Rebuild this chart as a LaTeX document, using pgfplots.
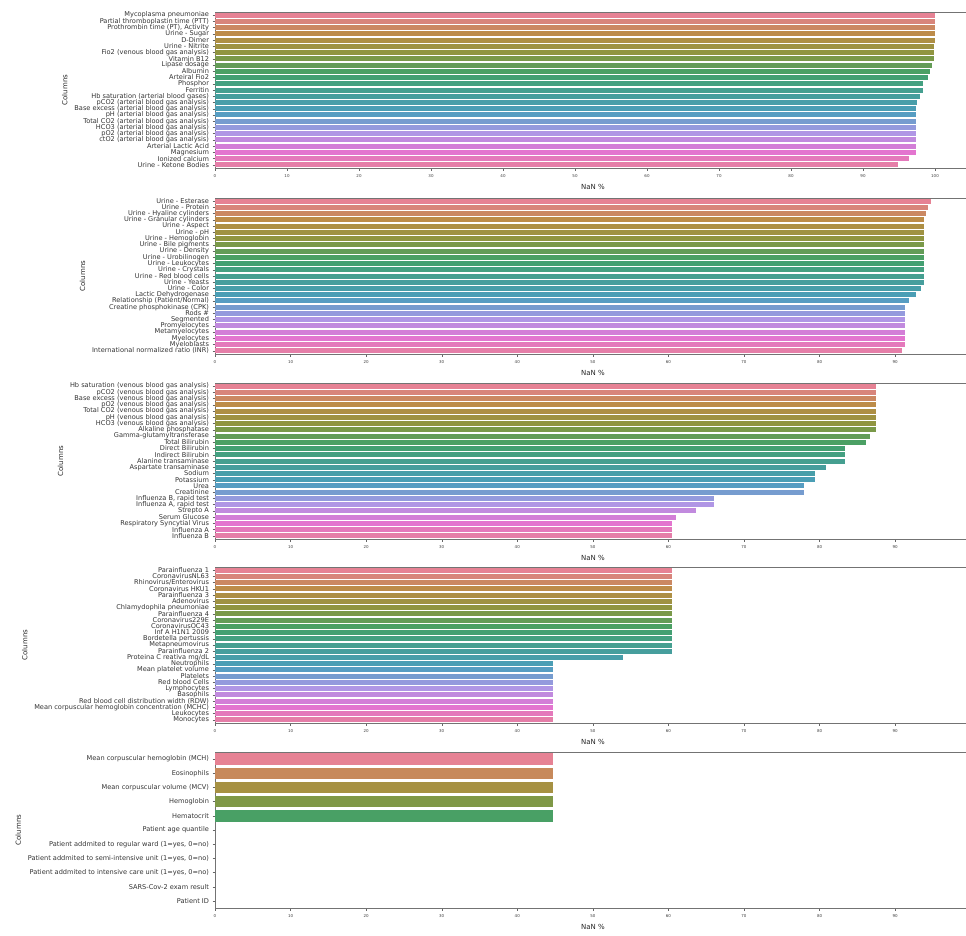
\documentclass[border=0pt]{standalone}
\usepackage{pgfplots}
\pgfplotsset{compat=1.18}
\usepackage{pgfplotstable}
\usepackage{fontspec}
\setmainfont{DejaVu Sans}

% 25-colour husl-like palette (desaturated)
\definecolor{c0}{RGB}{230,130,148}
\definecolor{c1}{RGB}{216,133,123}
\definecolor{c2}{RGB}{203,136,98}
\definecolor{c3}{RGB}{189,140,73}
\definecolor{c4}{RGB}{174,143,68}
\definecolor{c5}{RGB}{159,146,66}
\definecolor{c6}{RGB}{144,149,64}
\definecolor{c7}{RGB}{122,153,73}
\definecolor{c8}{RGB}{99,156,87}
\definecolor{c9}{RGB}{75,160,100}
\definecolor{c10}{RGB}{67,160,114}
\definecolor{c11}{RGB}{68,160,129}
\definecolor{c12}{RGB}{69,159,144}
\definecolor{c13}{RGB}{70,158,157}
\definecolor{c14}{RGB}{72,158,169}
\definecolor{c15}{RGB}{75,158,181}
\definecolor{c16}{RGB}{87,157,194}
\definecolor{c17}{RGB}{118,156,207}
\definecolor{c18}{RGB}{148,154,221}
\definecolor{c19}{RGB}{176,150,229}
\definecolor{c20}{RGB}{193,138,222}
\definecolor{c21}{RGB}{211,126,215}
\definecolor{c22}{RGB}{227,117,207}
\definecolor{c23}{RGB}{228,121,187}
\definecolor{c24}{RGB}{229,126,168}
% 11-colour palette (first five used)
\definecolor{d0}{RGB}{230,130,148}
\definecolor{d1}{RGB}{199,137,91}
\definecolor{d2}{RGB}{166,145,67}
\definecolor{d3}{RGB}{127,152,71}
\definecolor{d4}{RGB}{73,160,101}

\pgfplotstableread{
i v
0 100.0
1 100.0
2 100.0
3 100.0
4 100.0
5 99.9
6 99.9
7 99.8
8 99.6
9 99.3
10 99.0
11 98.3
12 98.3
13 97.9
14 97.5
15 97.4
16 97.4
17 97.4
18 97.4
19 97.4
20 97.4
21 97.4
22 97.3
23 96.4
24 94.9
}\tabA

\pgfplotstableread{
i v
0 94.7
1 94.3
2 94.1
3 93.8
4 93.8
5 93.8
6 93.8
7 93.8
8 93.8
9 93.8
10 93.8
11 93.8
12 93.8
13 93.8
14 93.4
15 92.7
16 91.9
17 91.3
18 91.3
19 91.3
20 91.3
21 91.3
22 91.3
23 91.3
24 90.9
}\tabB

\pgfplotstableread{
i v
0 87.5
1 87.5
2 87.5
3 87.5
4 87.5
5 87.5
6 87.5
7 87.5
8 86.7
9 86.1
10 83.4
11 83.4
12 83.4
13 80.8
14 79.4
15 79.4
16 77.9
17 77.9
18 66.0
19 66.0
20 63.6
21 61.0
22 60.5
23 60.5
24 60.5
}\tabC

\pgfplotstableread{
i v
0 60.5
1 60.5
2 60.5
3 60.5
4 60.5
5 60.5
6 60.5
7 60.5
8 60.5
9 60.5
10 60.5
11 60.5
12 60.5
13 60.5
14 54.0
15 44.7
16 44.7
17 44.7
18 44.7
19 44.7
20 44.7
21 44.7
22 44.7
23 44.7
24 44.7
}\tabD

\pgfplotstableread{
i v
0 44.7
1 44.7
2 44.7
3 44.7
4 44.7
5 0
6 0
7 0
8 0
9 0
10 0
}\tabE

\pgfplotsset{
  panel/.style={
    scale only axis, anchor=north west,
    height=156pt, xmin=0,
    y dir=reverse,
    xtick={0,10,...,90},
    axis line style={black!55, line width=0.5pt},
    tick style={black!60, line width=0.4pt},
    tick align=outside, major tick length=2.5pt,
    xtick pos=left, ytick pos=left,
    xticklabel style={font=\fontsize{4}{4}\selectfont, text=black!75},
    yticklabel style={font=\fontsize{6.6}{6.6}\selectfont, text=black!80},
    /pgf/number format/assume math mode=true,
    xlabel={NaN \%}, ylabel={Columns},
    label style={font=\fontsize{7}{8}\selectfont, text=black!85},
  },
  p25/.style={ytick={0,...,24}, ymin=-0.5, ymax=24.5},
  onebar/.style={xbar, bar width=0.8, bar shift=0pt, draw=none, fill=#1},
}

\begin{document}
\begin{tikzpicture}
\path[use as bounding box] (0,0) rectangle (966pt,-935pt);

% ---------- panel 1 ----------
\begin{axis}[panel, p25, at={(215pt,-12pt)}, width=756pt, xmax=105,
  xtick={0,10,...,100},
  yticklabels={Mycoplasma pneumoniae, Partial thromboplastin time (PTT), {Prothrombin time (PT), Activity}, Urine - Sugar, D-Dimer, Urine - Nitrite, Fio2 (venous blood gas analysis), Vitamin B12, Lipase dosage, Albumin, Arteiral Fio2, Phosphor, Ferritin, Hb saturation (arterial blood gases), pCO2 (arterial blood gas analysis), Base excess (arterial blood gas analysis), pH (arterial blood gas analysis), Total CO2 (arterial blood gas analysis), HCO3 (arterial blood gas analysis), pO2 (arterial blood gas analysis), ctO2 (arterial blood gas analysis), Arterial Lactic Acid, Magnesium, Ionized calcium, Urine - Ketone Bodies}]
\pgfplotsinvokeforeach{0,...,24}{
  \addplot[onebar=c#1] table[x=v, y=i, restrict y to domain=#1:#1] {\tabA};
}
\end{axis}

% ---------- panel 2 ----------
\begin{axis}[panel, p25, at={(215pt,-198pt)}, width=755.7pt, xmax=100,
  yticklabels={Urine - Esterase, Urine - Protein, Urine - Hyaline cylinders, Urine - Granular cylinders, Urine - Aspect, Urine - pH, Urine - Hemoglobin, Urine - Bile pigments, Urine - Density, Urine - Urobilinogen, Urine - Leukocytes, Urine - Crystals, Urine - Red blood cells, Urine - Yeasts, Urine - Color, Lactic Dehydrogenase, Relationship (Patient/Normal), Creatine phosphokinase (CPK), Rods \#, Segmented, Promyelocytes, Metamyelocytes, Myelocytes, Myeloblasts, International normalized ratio (INR)}]
\pgfplotsinvokeforeach{0,...,24}{
  \addplot[onebar=c#1] table[x=v, y=i, restrict y to domain=#1:#1] {\tabB};
}
\end{axis}

% ---------- panel 3 ----------
\begin{axis}[panel, p25, at={(215pt,-383pt)}, width=755.7pt, xmax=100,
  yticklabels={Hb saturation (venous blood gas analysis), pCO2 (venous blood gas analysis), Base excess (venous blood gas analysis), pO2 (venous blood gas analysis), Total CO2 (venous blood gas analysis), pH (venous blood gas analysis), HCO3 (venous blood gas analysis), Alkaline phosphatase, Gamma-glutamyltransferase, Total Bilirubin, Direct Bilirubin, Indirect Bilirubin, Alanine transaminase, Aspartate transaminase, Sodium, Potassium, Urea, Creatinine, {Influenza B, rapid test}, {Influenza A, rapid test}, Strepto A, Serum Glucose, Respiratory Syncytial Virus, Influenza A, Influenza B}]
\pgfplotsinvokeforeach{0,...,24}{
  \addplot[onebar=c#1] table[x=v, y=i, restrict y to domain=#1:#1] {\tabC};
}
\end{axis}

% ---------- panel 4 ----------
\begin{axis}[panel, p25, at={(215pt,-567pt)}, width=755.7pt, xmax=100,
  yticklabels={Parainfluenza 1, CoronavirusNL63, Rhinovirus/Enterovirus, Coronavirus HKU1, Parainfluenza 3, Adenovirus, Chlamydophila pneumoniae, Parainfluenza 4, Coronavirus229E, CoronavirusOC43, Inf A H1N1 2009, Bordetella pertussis, Metapneumovirus, Parainfluenza 2, Proteina C reativa mg/dL, Neutrophils, Mean platelet volume, Platelets, Red blood Cells, Lymphocytes, Basophils, Red blood cell distribution width (RDW), Mean corpuscular hemoglobin concentration (MCHC), Leukocytes, Monocytes}]
\pgfplotsinvokeforeach{0,...,24}{
  \addplot[onebar=c#1] table[x=v, y=i, restrict y to domain=#1:#1] {\tabD};
}
\end{axis}

% ---------- panel 5 ----------
\begin{axis}[panel, at={(215pt,-752pt)}, width=755.7pt, xmax=100,
  ytick={0,...,10}, ymin=-0.5, ymax=10.5,
  yticklabels={Mean corpuscular hemoglobin (MCH), Eosinophils, Mean corpuscular volume (MCV), Hemoglobin, Hematocrit, Patient age quantile, {Patient addmited to regular ward (1=yes, 0=no)}, {Patient addmited to semi-intensive unit (1=yes, 0=no)}, {Patient addmited to intensive care unit (1=yes, 0=no)}, SARS-Cov-2 exam result, Patient ID}]
\pgfplotsinvokeforeach{0,...,4}{
  \addplot[onebar=d#1] table[x=v, y=i, restrict y to domain=#1:#1] {\tabE};
}
\end{axis}
\end{tikzpicture}
\end{document}
